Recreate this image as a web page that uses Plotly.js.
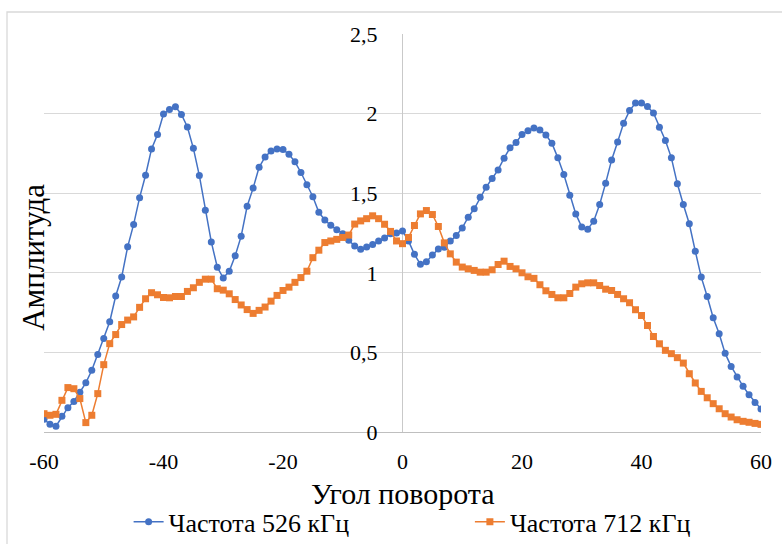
<!DOCTYPE html>
<html>
<head>
<meta charset="utf-8">
<script src="https://cdn.plot.ly/plotly-3.0.1.min.js"></script>
<style>
  html, body { margin: 0; padding: 0; background: #ffffff; }
  #chart { width: 782px; height: 544px; }
</style>
</head>
<body>
<div id="chart"></div>
<script>
// Angle of rotation (degrees)
const angles = [
  -60,-59,-58,-57,-56,-55,-54,-53,-52,-51,
  -50,-49,-48,-47,-46,-45,-44,-43,-42,-41,
  -40,-39,-38,-37,-36,-35,-34,-33,-32,-31,
  -30,-29,-28,-27,-26,-25,-24,-23,-22,-21,
  -20,-19,-18,-17,-16,-15,-14,-13,-12,-11,
  -10,-9,-8,-7,-6,-5,-4,-3,-2,-1,
  0,1,2,3,4,5,6,7,8,9,
  10,11,12,13,14,15,16,17,18,19,
  20,21,22,23,24,25,26,27,28,29,
  30,31,32,33,34,35,36,37,38,39,
  40,41,42,43,44,45,46,47,48,49,
  50,51,52,53,54,55,56,57,58,59,
  60
];

// Amplitude, frequency 526 kHz
const amp526 = [
  0.080,0.048,0.036,0.099,0.153,0.192,0.250,0.309,0.388,0.487,
  0.587,0.693,0.854,0.973,1.163,1.304,1.472,1.613,1.778,1.869,
  1.998,2.025,2.043,1.995,1.916,1.782,1.611,1.393,1.194,1.035,
  0.967,1.009,1.107,1.230,1.418,1.532,1.663,1.728,1.765,1.777,
  1.774,1.745,1.697,1.630,1.553,1.478,1.380,1.332,1.298,1.271,
  1.246,1.205,1.168,1.148,1.162,1.177,1.200,1.219,1.246,1.250,
  1.263,1.200,1.116,1.053,1.070,1.112,1.150,1.161,1.199,1.234,
  1.282,1.349,1.402,1.475,1.538,1.592,1.646,1.720,1.785,1.818,
  1.868,1.893,1.910,1.897,1.866,1.814,1.722,1.617,1.487,1.370,
  1.287,1.274,1.324,1.429,1.563,1.709,1.822,1.939,2.019,2.067,
  2.067,2.044,2.004,1.914,1.831,1.722,1.559,1.429,1.308,1.136,
  0.973,0.851,0.718,0.617,0.494,0.412,0.345,0.287,0.234,0.186,
  0.144
];

// Amplitude, frequency 712 kHz
const amp712 = [
  0.115,0.105,0.111,0.199,0.279,0.272,0.210,0.059,0.105,0.241,
  0.423,0.555,0.612,0.675,0.703,0.723,0.783,0.837,0.875,0.862,
  0.845,0.843,0.851,0.851,0.883,0.906,0.940,0.960,0.960,0.900,
  0.891,0.868,0.832,0.798,0.769,0.745,0.764,0.785,0.822,0.858,
  0.889,0.910,0.940,0.970,1.010,1.095,1.142,1.190,1.200,1.210,
  1.222,1.237,1.306,1.326,1.340,1.358,1.340,1.305,1.260,1.200,
  1.183,1.222,1.297,1.370,1.391,1.366,1.291,1.188,1.119,1.067,
  1.036,1.025,1.015,1.004,1.004,1.019,1.052,1.073,1.040,1.025,
  1.000,0.975,0.965,0.925,0.887,0.864,0.843,0.843,0.870,0.910,
  0.931,0.937,0.937,0.920,0.897,0.889,0.864,0.837,0.812,0.768,
  0.732,0.669,0.600,0.554,0.513,0.492,0.467,0.433,0.366,0.308,
  0.255,0.215,0.178,0.146,0.115,0.094,0.077,0.067,0.061,0.054,
  0.048
];

const seriesNames = ['Частота 526 кГц', 'Частота 712 кГц'];
const xTickVals = [-60, -40, -20, 0, 20, 40, 60];
const xTickText = ['-60', '-40', '-20', '0', '20', '40', '60'];
const xTitle = 'Угол поворота';
const yTitle = 'Амплитуда';

const FONT = 'Liberation Serif, Times New Roman, serif';

const traces = [
  {
    x: angles, y: amp526, name: seriesNames[0],
    type: 'scatter', mode: 'lines+markers', legend: 'legend',
    line: { color: '#4472C4', width: 1.5 },
    marker: { color: '#4472C4', size: 7, symbol: 'circle' }
  },
  {
    x: angles, y: amp712, name: seriesNames[1],
    type: 'scatter', mode: 'lines+markers', legend: 'legend2',
    line: { color: '#ED7D31', width: 1.5 },
    marker: { color: '#ED7D31', size: 7, symbol: 'square' }
  }
];

const legendFont = { family: FONT, size: 26, color: '#000000' };

const layout = {
  width: 782, height: 544, autosize: false,
  margin: { l: 44, r: 21, t: 34, b: 112, pad: 0, autoexpand: false },
  paper_bgcolor: '#ffffff', plot_bgcolor: '#ffffff',
  separators: ', ',
  font: { family: FONT, size: 22, color: '#000000' },
  showlegend: true,
  xaxis: {
    range: [-60, 60],
    tickmode: 'array', tickvals: xTickVals, ticktext: xTickText,
    showgrid: false,
    zeroline: true, zerolinecolor: '#c9c9c9', zerolinewidth: 1.3,
    showline: true, linecolor: '#bfbfbf', linewidth: 1.3,
    ticks: '', ticklabelstandoff: 9,
    tickfont: { family: FONT, size: 22, color: '#000000' }
  },
  yaxis: {
    range: [0, 2.5], dtick: 0.5, tick0: 0,
    anchor: 'free', position: 0.5,
    showgrid: true, gridcolor: '#d9d9d9', gridwidth: 1.3,
    zeroline: false, showline: false,
    ticks: '', ticklabelstandoff: 25,
    tickfont: { family: FONT, size: 22, color: '#000000' }
  },
  legend: {
    orientation: 'h',
    x: 0.118, xanchor: 'left',
    y: -0.226, yanchor: 'middle',
    font: legendFont,
    bgcolor: 'rgba(0,0,0,0)'
  },
  legend2: {
    orientation: 'h',
    x: 0.594, xanchor: 'left',
    y: -0.226, yanchor: 'middle',
    font: legendFont,
    bgcolor: 'rgba(0,0,0,0)'
  },
  annotations: [
    {
      text: yTitle, xref: 'paper', yref: 'paper',
      x: -0.014, y: 0.44, xanchor: 'center', yanchor: 'middle',
      textangle: -90, showarrow: false,
      font: { family: FONT, size: 31, color: '#000000' }
    },
    {
      text: xTitle, xref: 'paper', yref: 'paper',
      x: 0.5, y: -0.1533, xanchor: 'center', yanchor: 'middle',
      showarrow: false, borderpad: 0,
      font: { family: FONT, size: 30, color: '#000000' }
    }
  ],
  shapes: [
    {
      type: 'rect', xref: 'paper', yref: 'paper',
      x0: -0.0516, x1: 1.06, y0: -0.35, y1: 1.0553,
      line: { color: '#d9d9d9', width: 1.3 }, fillcolor: 'rgba(0,0,0,0)',
      layer: 'below'
    }
  ]
};

Plotly.newPlot('chart', traces, layout, { displayModeBar: false, staticPlot: true });
</script>
</body>
</html>
